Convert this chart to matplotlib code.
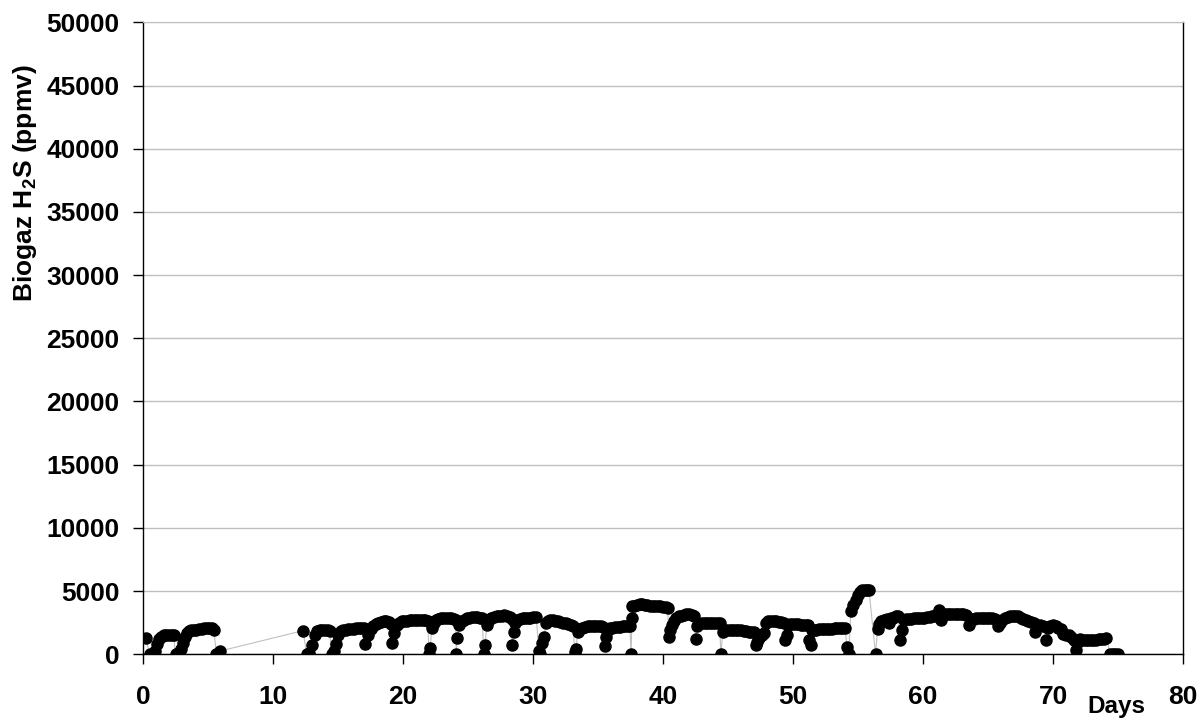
import matplotlib
matplotlib.use("Agg")
import matplotlib.pyplot as plt

plt.rcParams['font.family'] = ['Liberation Sans', 'DejaVu Sans']
plt.rcParams['font.weight'] = 'bold'
plt.rcParams['mathtext.fontset'] = 'custom'
plt.rcParams['mathtext.rm'] = 'Liberation Sans:bold'
plt.rcParams['mathtext.bf'] = 'Liberation Sans:bold'

# ---- data (days, H2S ppmv) ----
days_a = [0.2, 0.5, 0.7, 0.9, 1.1, 1.25, 1.4, 1.6, 1.8, 2.0, 2.2, 2.35, 2.5, 2.7, 2.9, 3.05,
          3.2, 3.35, 3.5, 3.7, 3.9, 4.1, 4.3, 4.5, 4.7, 4.9, 5.1, 5.3, 5.45, 5.65, 5.9]
h2s_a = [1300, 0, 50, 300, 800, 1200, 1400, 1500, 1550, 1550, 1550, 1500, 0, 100, 400, 900,
         1400, 1700, 1850, 1900, 1950, 1950, 2000, 2000, 2050, 2100, 2100, 2100, 1950, 0, 250]

days_b = [12.3, 12.6, 12.8, 13.0, 13.2, 13.4, 13.6, 13.8, 14.0, 14.2, 14.35, 14.5, 14.7, 14.85,
          15.0, 15.2, 15.4, 15.6, 15.8, 16.0, 16.2, 16.4, 16.6, 16.8, 17.0, 17.1, 17.3, 17.5,
          17.7, 17.9, 18.1, 18.3, 18.5, 18.7, 18.9, 19.05, 19.15, 19.3, 19.5, 19.7]
h2s_b = [1870, 0, 100, 700, 1500, 1850, 1950, 1950, 1950, 1900, 1850, 0, 300, 800,
         1500, 1850, 1950, 1950, 2000, 2000, 2000, 2050, 2050, 2050, 2050, 850, 1500, 2000,
         2250, 2400, 2500, 2550, 2600, 2600, 2550, 2400, 900, 1700, 2300, 2500]

days_c = [19.9, 20.1, 20.3, 20.5, 20.7, 20.9, 21.1, 21.3, 21.5, 21.7, 21.9, 22.0, 22.1, 22.2,
          22.35, 22.5, 22.7, 22.9, 23.1, 23.3, 23.5, 23.7, 23.9, 24.05, 24.1, 24.15, 24.3,
          24.5, 24.7, 24.9, 25.1, 25.3, 25.5, 25.7, 25.9, 26.1, 26.2, 26.3, 26.45, 26.6, 26.8,
          27.0, 27.2, 27.4, 27.6, 27.8, 28.0, 28.2, 28.35, 28.4, 28.5, 28.65, 28.8, 29.0,
          29.2, 29.4, 29.6, 29.8, 30.0, 30.25]
h2s_c = [2600, 2650, 2650, 2700, 2700, 2700, 2750, 2750, 2750, 2700, 2650, 0, 500, 2050,
         2500, 2700, 2800, 2850, 2850, 2900, 2900, 2850, 2800, 2700, 0, 1300, 2300,
         2600, 2750, 2850, 2900, 2950, 2950, 2950, 2900, 2850, 0, 700, 2300, 2700, 2850,
         2950, 3000, 3050, 3050, 3100, 3050, 2950, 2800, 700, 1800, 2500, 2700, 2800,
         2850, 2850, 2900, 2900, 2950, 2950]

days_d = [30.45, 30.55, 30.7, 30.85, 31.0, 31.15, 31.3, 31.5, 31.7, 31.9, 32.1, 32.3, 32.5,
          32.7, 32.9, 33.1, 33.2, 33.3, 33.45, 33.6, 33.8, 34.0, 34.2, 34.4, 34.6, 34.8,
          35.0, 35.2, 35.4, 35.5, 35.6, 35.75, 35.9, 36.1, 36.3, 36.5, 36.7, 36.9, 37.1,
          37.3, 37.45, 37.55, 37.6, 37.65, 37.8, 38.0, 38.2, 38.4, 38.6, 38.8, 39.0, 39.2,
          39.4, 39.6, 39.8, 40.0, 40.2, 40.35]
h2s_d = [300, 50, 900, 1400, 2450, 2650, 2700, 2700, 2650, 2600, 2550, 2500, 2450,
         2400, 2350, 2250, 200, 400, 1800, 2000, 2100, 2150, 2200, 2200, 2200, 2250,
         2250, 2200, 2150, 650, 1400, 1900, 2050, 2100, 2150, 2150, 2150, 2200, 2200,
         2200, 2200, 0, 2900, 3800, 3850, 3900, 3950, 3950, 3900, 3900, 3850, 3850,
         3850, 3800, 3800, 3750, 3750, 3700]

days_e = [40.45, 40.55, 40.7, 40.85, 41.0, 41.2, 41.4, 41.6, 41.8, 42.0, 42.2, 42.4, 42.5,
          42.65, 42.8, 43.0, 43.2, 43.4, 43.6, 43.8, 44.0, 44.2, 44.35, 44.45, 44.6, 44.8,
          45.0, 45.2, 45.4, 45.6, 45.8, 46.0, 46.2, 46.4, 46.6, 46.8, 47.0, 47.15, 47.25,
          47.4, 47.6, 47.8, 47.95, 48.1, 48.3, 48.5, 48.7, 48.9, 49.1, 49.3, 49.4, 49.5]
h2s_e = [1400, 1900, 2300, 2650, 2850, 3000, 3050, 3100, 3150, 3150, 3100, 3050, 1250,
         2200, 2400, 2450, 2500, 2500, 2500, 2500, 2500, 2450, 2450, 0, 1800, 1950,
         1950, 1950, 1950, 1900, 1900, 1900, 1850, 1850, 1800, 1800, 1750, 700, 1000,
         1300, 1500, 1700, 2500, 2600, 2600, 2600, 2600, 2550, 2550, 2500, 1150, 1500]

days_f = [49.6, 49.8, 50.0, 50.2, 50.4, 50.6, 50.8, 51.0, 51.15, 51.25, 51.35, 51.45, 51.6,
          51.8, 52.0, 52.2, 52.4, 52.6, 52.8, 53.0, 53.2, 53.4, 53.6, 53.8, 54.0, 54.15,
          54.3, 54.45, 54.65, 54.85, 55.0, 55.15, 55.3, 55.5, 55.7, 55.85, 56.35]
h2s_f = [2350, 2400, 2400, 2400, 2400, 2350, 2350, 2350, 2300, 1150, 700, 1900, 1950,
         1950, 2000, 2000, 2000, 2000, 2000, 2000, 2050, 2050, 2050, 2050, 2050, 600,
         0, 3400, 3900, 4300, 4700, 4900, 5050, 5100, 5100, 5050, 0]

days_g = [56.5, 56.65, 56.8, 57.0, 57.2, 57.4, 57.5, 57.7, 57.9, 58.1, 58.25, 58.35, 58.5,
          58.7, 58.9, 59.1, 59.3, 59.5, 59.7, 59.9, 60.1, 60.3, 60.5, 60.7, 60.9, 61.1,
          61.25, 61.35, 61.5, 61.7, 61.9, 62.1, 62.3, 62.5, 62.7, 62.9, 63.1, 63.3, 63.55,
          63.7, 63.9, 64.1, 64.3, 64.5, 64.7, 64.9, 65.1, 65.3, 65.5, 65.75, 65.9, 66.1,
          66.3, 66.5, 66.7, 66.9, 67.1, 67.3, 67.5, 67.7, 67.9, 68.1, 68.3, 68.5, 68.6,
          68.8, 69.0, 69.2, 69.45, 69.6, 69.8, 70.0, 70.2, 70.4, 70.6, 70.8, 71.0, 71.2,
          71.4, 71.6, 71.8, 71.9, 72.1, 72.3, 72.5, 72.7, 72.9, 73.1, 73.3, 73.5, 73.7,
          73.9, 74.1, 74.4, 74.6, 74.8, 75.0]
h2s_g = [2000, 2400, 2600, 2750, 2800, 2500, 2850, 2900, 3000, 3000, 1150, 1900, 2700,
         2800, 2800, 2800, 2850, 2850, 2850, 2900, 2900, 2950, 2950, 3000, 3050, 3150,
         3500, 2700, 3100, 3150, 3200, 3200, 3150, 3150, 3150, 3200, 3150, 3100, 2350,
         2800, 2800, 2850, 2850, 2850, 2900, 2900, 2900, 2850, 2800, 2250, 2500, 2700,
         2850, 2950, 3000, 3050, 3050, 3000, 2900, 2800, 2700, 2650, 2550, 2450, 1800,
         2250, 2300, 2200, 1100, 2100, 2250, 2300, 2250, 2100, 2000, 1600, 1550, 1500,
         1400, 1100, 350, 1000, 1200, 1150, 1100, 1100, 1100, 1150, 1150, 1200, 1250,
         1250, 1300, 50, 0, 0, 0]

days = days_a + days_b + days_c + days_d + days_e + days_f + days_g
h2s = h2s_a + h2s_b + h2s_c + h2s_d + h2s_e + h2s_f + h2s_g

x_ticks = list(range(0, 81, 10))
y_ticks = list(range(0, 50001, 5000))

# ---- figure ----
fig = plt.figure(figsize=(12.01, 7.22), dpi=100)
ax = fig.add_axes([143 / 1201, 1 - 654.3 / 722, 1040 / 1201, 632 / 722])

ax.plot(days, h2s, color='#c0c0c0', lw=0.8, zorder=2)
ax.plot(days, h2s, linestyle='none', marker='o', ms=8, color='black', zorder=3)

ax.set_xlim(0, 80)
ax.set_ylim(0, 50000)
ax.set_xticks(x_ticks)
ax.set_yticks(y_ticks)
ax.yaxis.grid(True, color='#bfbfbf', lw=1)
ax.set_axisbelow(True)

for s in ['left', 'bottom', 'right']:
    ax.spines[s].set_color('black')
    ax.spines[s].set_linewidth(1)
ax.spines['top'].set_color('#bfbfbf')

ax.tick_params(axis='x', direction='out', length=7, width=1, pad=15, labelsize=19)
ax.tick_params(axis='y', direction='out', length=7, width=1, pad=10, labelsize=19)
for lab in ax.get_xticklabels() + ax.get_yticklabels():
    lab.set_fontweight('bold')

fig.text(25 / 1201, 1 - 183 / 722, r'Biogaz H$_\mathbf{2}$S (ppmv)', rotation=90,
         ha='center', va='center', fontsize=19, fontweight='bold')
fig.text(1116 / 1201, 1 - 707 / 722, 'Days', ha='center', va='center',
         fontsize=17.5, fontweight='bold')

fig.savefig('out.png', dpi=100)
